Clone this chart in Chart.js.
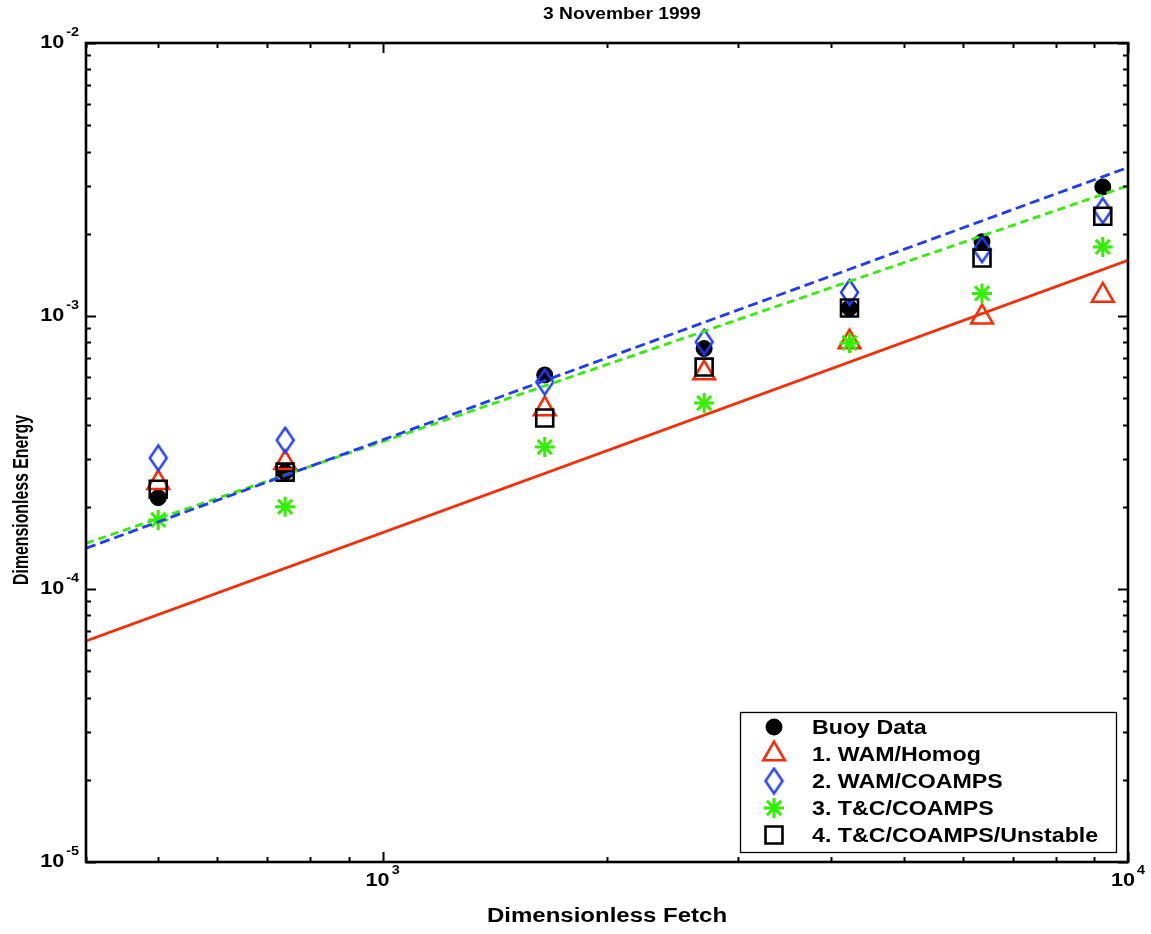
<!DOCTYPE html>
<html>
<head>
<meta charset="utf-8">
<title>3 November 1999</title>
<script src="https://cdn.jsdelivr.net/npm/chart.js@4.4.1/dist/chart.umd.min.js"></script>
<style>
  html, body { margin: 0; padding: 0; background: #fff; }
  canvas { display: block; }
</style>
</head>
<body>
<canvas id="fetch-chart" width="1151" height="934"></canvas>
<script>
// dimensionless fetch of the seven comparison points
const fetchValues = [500, 740, 1650, 2700, 4230, 6370, 9250];

// dimensionless energy at each fetch
const buoyData   = [2.16e-4, 2.68e-4, 6.08e-4, 7.6e-4, 1.07e-3, 1.87e-3, 2.97e-3];
const wamHomog   = [2.45e-4, 2.90e-4, 4.56e-4, 6.18e-4, 8.03e-4, 9.9e-4, 1.19e-3];
const wamCoamps  = [3.02e-4, 3.51e-4, 5.73e-4, 8.03e-4, 1.22e-3, 1.75e-3, 2.43e-3];
const tcCoamps   = [1.79e-4, 2.0e-4, 3.31e-4, 4.8e-4, 7.97e-4, 1.21e-3, 1.79e-3];
const tcUnstable = [2.32e-4, 2.68e-4, 4.23e-4, 6.5e-4, 1.07e-3, 1.63e-3, 2.32e-3];

// growth curves, given at both ends of the fetch axis
const fitFetch     = [400, 10000];
const fitWamHomog  = [6.45e-5, 1.6e-3];
const fitWamCoamps = [1.41e-4, 3.5e-3];
const fitTcCoamps  = [1.47e-4, 3.0e-3];

// decade exponents that get a "10^n" label
const xTickExps = [3, 4];
const yTickExps = [-5, -4, -3, -2];

const RED = '#ff2a00';
const BLUE = '#1f3cff';
const GREEN = '#33f000';
const FONT = '"Liberation Sans", Arial, sans-serif';
const SX = 1.2; // text comes out a bit wide in the old figure

const toPoints = (xs, ys) => xs.map((x, i) => ({ x: x, y: ys[i] }));

// MATLAB style diamond is taller than wide, so build it as an image
const diamondMarker = (w, h, color, lw) => {
    const c = document.createElement('canvas');
    c.width = w + 4;
    c.height = h + 4;
    const g = c.getContext('2d');
    g.strokeStyle = color;
    g.lineWidth = lw;
    g.beginPath();
    g.moveTo(c.width / 2, 2);
    g.lineTo(c.width - 2, c.height / 2);
    g.lineTo(c.width / 2, c.height - 2);
    g.lineTo(2, c.height / 2);
    g.closePath();
    g.stroke();
    return c;
};
const diamond = diamondMarker(17, 25, BLUE, 2.4);

const markerSet = (label, ys, style, color, radius, width, order, filled) => ({
    label: label,
    data: toPoints(fetchValues, ys),
    pointStyle: style,
    pointRadius: radius,
    borderColor: color,
    backgroundColor: filled ? color : 'rgba(0,0,0,0)',
    pointBorderWidth: width,
    showLine: false,
    order: order,
});

const fitLine = (ys, color, dash) => ({
    label: '',
    fit: true,
    data: toPoints(fitFetch, ys),
    showLine: true,
    pointRadius: 0,
    borderColor: color,
    borderWidth: 2.8,
    borderDash: dash,
    order: 0,
});

const datasets = [
    fitLine(fitWamCoamps, BLUE, [10, 5]),
    fitLine(fitTcCoamps, GREEN, [8, 5]),
    fitLine(fitWamHomog, RED, []),
    markerSet('Buoy Data', buoyData, 'circle', '#000', 8, 1, 5, true),
    markerSet('1. WAM/Homog', wamHomog, 'triangle', RED, 12.5, 2.5, 4, false),
    markerSet('2. WAM/COAMPS', wamCoamps, diamond, BLUE, 9, 2.4, 3, false),
    markerSet('3. T&C/COAMPS', tcCoamps, 'star', GREEN, 10, 3, 2, false),
    markerSet('4. T&C/COAMPS/Unstable', tcUnstable, 'rect', '#000', 12, 2.6, 1, false),
];

// bold text, stretched along its own direction by sx
const drawText = (ctx, text, x, y, px, sx, align, angle) => {
    ctx.save();
    ctx.translate(x, y);
    if (angle) ctx.rotate(angle);
    ctx.scale(sx, 1);
    ctx.font = 'bold ' + px + 'px ' + FONT;
    ctx.textAlign = align;
    ctx.textBaseline = 'middle';
    ctx.fillText(text, 0, 0);
    ctx.restore();
};

// "10" with a raised exponent
const powerLabel = (ctx, exp, x, y, align) => {
    const sup = String(exp);
    ctx.font = 'bold 18px ' + FONT;
    const wb = ctx.measureText('10').width * SX;
    ctx.font = 'bold 12px ' + FONT;
    const ws = ctx.measureText(sup).width * SX;
    const total = wb + 2 + ws;
    let left = x;
    if (align === 'center') left = x - total / 2;
    if (align === 'right') left = x - total;
    drawText(ctx, '10', left, y, 18, SX, 'left');
    drawText(ctx, sup, left + wb + 2, y - 10, 12, SX, 'left');
};

const drawMarker = (ctx, ds, x, y) => {
    ctx.save();
    ctx.strokeStyle = ds.borderColor;
    ctx.fillStyle = ds.backgroundColor;
    ctx.lineWidth = ds.pointBorderWidth;
    Chart.helpers.drawPoint(ctx, {
        pointStyle: ds.pointStyle,
        radius: ds.pointRadius,
        rotation: 0,
        borderWidth: ds.pointBorderWidth,
    }, x, y);
    ctx.restore();
};

const matlabAxes = {
    id: 'matlabAxes',
    afterDraw(chart) {
        const ctx = chart.ctx;
        const { left, right, top, bottom } = chart.chartArea;
        const xs = chart.scales.x;
        const ys = chart.scales.y;

        ctx.save();
        ctx.strokeStyle = '#000';
        ctx.fillStyle = '#000';

        // inward ticks on all four sides
        ctx.lineWidth = 2;
        ctx.beginPath();
        for (let d = 100; d < 10000; d *= 10) {
            for (let m = 1; m <= 10; m++) {
                const v = d * m;
                if (v < xs.min || v > xs.max) continue;
                const px = Math.round(xs.getPixelForValue(v)) + 0.5;
                const len = m === 1 || m === 10 ? 10 : 5;
                ctx.moveTo(px, bottom);
                ctx.lineTo(px, bottom - len);
                ctx.moveTo(px, top);
                ctx.lineTo(px, top + len);
            }
        }
        for (let d = 1e-5; d < 1e-2 * 0.99; d *= 10) {
            for (let m = 1; m <= 10; m++) {
                const v = d * m;
                const py = Math.round(ys.getPixelForValue(v)) + 0.5;
                const len = m === 1 || m === 10 ? 10 : 5;
                ctx.moveTo(left, py);
                ctx.lineTo(left + len, py);
                ctx.moveTo(right, py);
                ctx.lineTo(right - len, py);
            }
        }
        ctx.stroke();

        // frame
        ctx.lineWidth = 2.6;
        ctx.strokeRect(left, top, right - left, bottom - top);

        // tick labels
        xTickExps.forEach((e) => {
            powerLabel(ctx, e, xs.getPixelForValue(Math.pow(10, e)), bottom + 19, 'center');
        });
        yTickExps.forEach((e) => {
            powerLabel(ctx, e, left - 7, ys.getPixelForValue(Math.pow(10, e)), 'right');
        });

        // titles
        drawText(ctx, '3 November 1999', (left + right) / 2 + 15, 15, 16, SX, 'center');
        drawText(ctx, 'Dimensionless Fetch', (left + right) / 2, 916, 20, SX, 'center');
        drawText(ctx, 'Dimensionless Energy', 22, 500, 22, 0.72, 'center', -Math.PI / 2);

        // legend box, lower right inside the axes
        const lx = 740, ly = 712, lw = 376, lh = 140;
        ctx.fillStyle = '#fff';
        ctx.fillRect(lx, ly, lw, lh);
        ctx.lineWidth = 1.3;
        ctx.strokeStyle = '#000';
        ctx.strokeRect(lx + 0.5, ly + 0.5, lw, lh);
        ctx.fillStyle = '#000';
        const items = chart.data.datasets.filter((ds) => !ds.fit);
        items.forEach((ds, i) => {
            const rowY = ly + 15 + i * 27;
            drawMarker(ctx, ds, lx + 34, rowY);
            ctx.fillStyle = '#000';
            drawText(ctx, ds.label, lx + 72, rowY + 1, 20, 1.16, 'left');
        });
        ctx.restore();
    },
};

const ctx = document.getElementById('fetch-chart');
const chart = new Chart(ctx, {
    type: 'scatter',
    data: { datasets: datasets },
    options: {
        responsive: false,
        animation: false,
        events: [],
        layout: { padding: { left: 86, right: 23, top: 43, bottom: 72 } },
        plugins: {
            legend: { display: false },
            tooltip: { enabled: false },
        },
        scales: {
            x: {
                type: 'logarithmic',
                min: 400,
                max: 10000,
                grid: { display: false },
                border: { display: false },
                ticks: { display: false },
                afterFit: (s) => { s.height = 0; },
            },
            y: {
                type: 'logarithmic',
                min: 1e-5,
                max: 1e-2,
                grid: { display: false },
                border: { display: false },
                ticks: { display: false },
                afterFit: (s) => { s.width = 0; },
            },
        },
    },
    plugins: [matlabAxes],
});
</script>
</body>
</html>
